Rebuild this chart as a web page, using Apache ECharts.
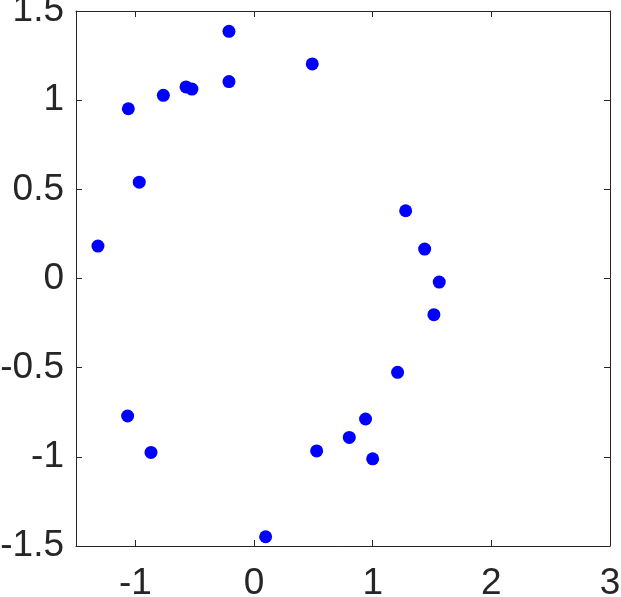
<!DOCTYPE html>
<html>
<head>
<meta charset="utf-8">
<script src="https://cdn.jsdelivr.net/npm/echarts@6/dist/echarts.min.js"></script>
<style>
  html, body { margin: 0; padding: 0; background: #fff; }
  #box { width: 621px; height: 597px; }
</style>
</head>
<body>
<div id="box"></div>
<script>
// point coordinates
var xValues = [-0.211, 0.491, -0.211, -0.573, -0.523, -0.764, -1.059, -0.967, -1.315,
               -1.065, -0.868, 0.098, 0.528, 0.803, 0.940, 1.000, 1.210, 1.516, 1.561, 1.438, 1.278];
var yValues = [1.386, 1.203, 1.104, 1.074, 1.062, 1.027, 0.952, 0.540, 0.182,
               -0.771, -0.975, -1.448, -0.967, -0.891, -0.788, -1.011, -0.526, -0.203, -0.020, 0.165, 0.380];
var xRange = [-1.5, 3];
var yRange = [-1.5, 1.5];
var xTicks = [-1, 0, 1, 2, 3];
var yTicks = [-1.5, -1, -0.5, 0, 0.5, 1, 1.5];

var points = [];
for (var i = 0; i < xValues.length; i++) {
    points.push([xValues[i], yValues[i]]);
}

var dom = document.getElementById("box");
var myChart = echarts.init(dom);
var axisColor = '#262626';
var font = '"Liberation Sans", Arial, Helvetica, sans-serif';

function makeAxis(pos, showLabel, range, ticks) {
    return {
        type: 'value',
        position: pos,
        min: range[0],
        max: range[1],
        splitLine: { show: false },
        axisLine: { show: true, onZero: false, lineStyle: { color: axisColor, width: 1 } },
        axisTick: { show: true, inside: true, length: 6, customValues: ticks, lineStyle: { color: axisColor, width: 1 } },
        axisLabel: {
            show: showLabel,
            customValues: ticks,
            color: axisColor,
            fontSize: 37,
            fontFamily: font,
            // matlab draws the y labels a touch below their ticks
            padding: pos === 'left' ? [6, 0, 0, 0] : 0,
            margin: pos === 'bottom' ? 19 : 12
        }
    };
}

option = {
    animation: false,
    backgroundColor: '#fff',
    grid: { left: 76, right: 11, top: 11, bottom: 51, containLabel: false, outerBoundsMode: 'none' },
    xAxis: [makeAxis('bottom', true, xRange, xTicks), makeAxis('top', false, xRange, xTicks)],
    yAxis: [makeAxis('left', true, yRange, yTicks), makeAxis('right', false, yRange, yTicks)],
    series: [
        {
            type: 'scatter',
            symbol: 'circle',
            symbolSize: 13,
            itemStyle: { color: '#0000ff', opacity: 1 },
            data: points
        }
    ]
};
if (option && typeof option === "object") {
    myChart.setOption(option, true);
}
</script>
</body>
</html>
